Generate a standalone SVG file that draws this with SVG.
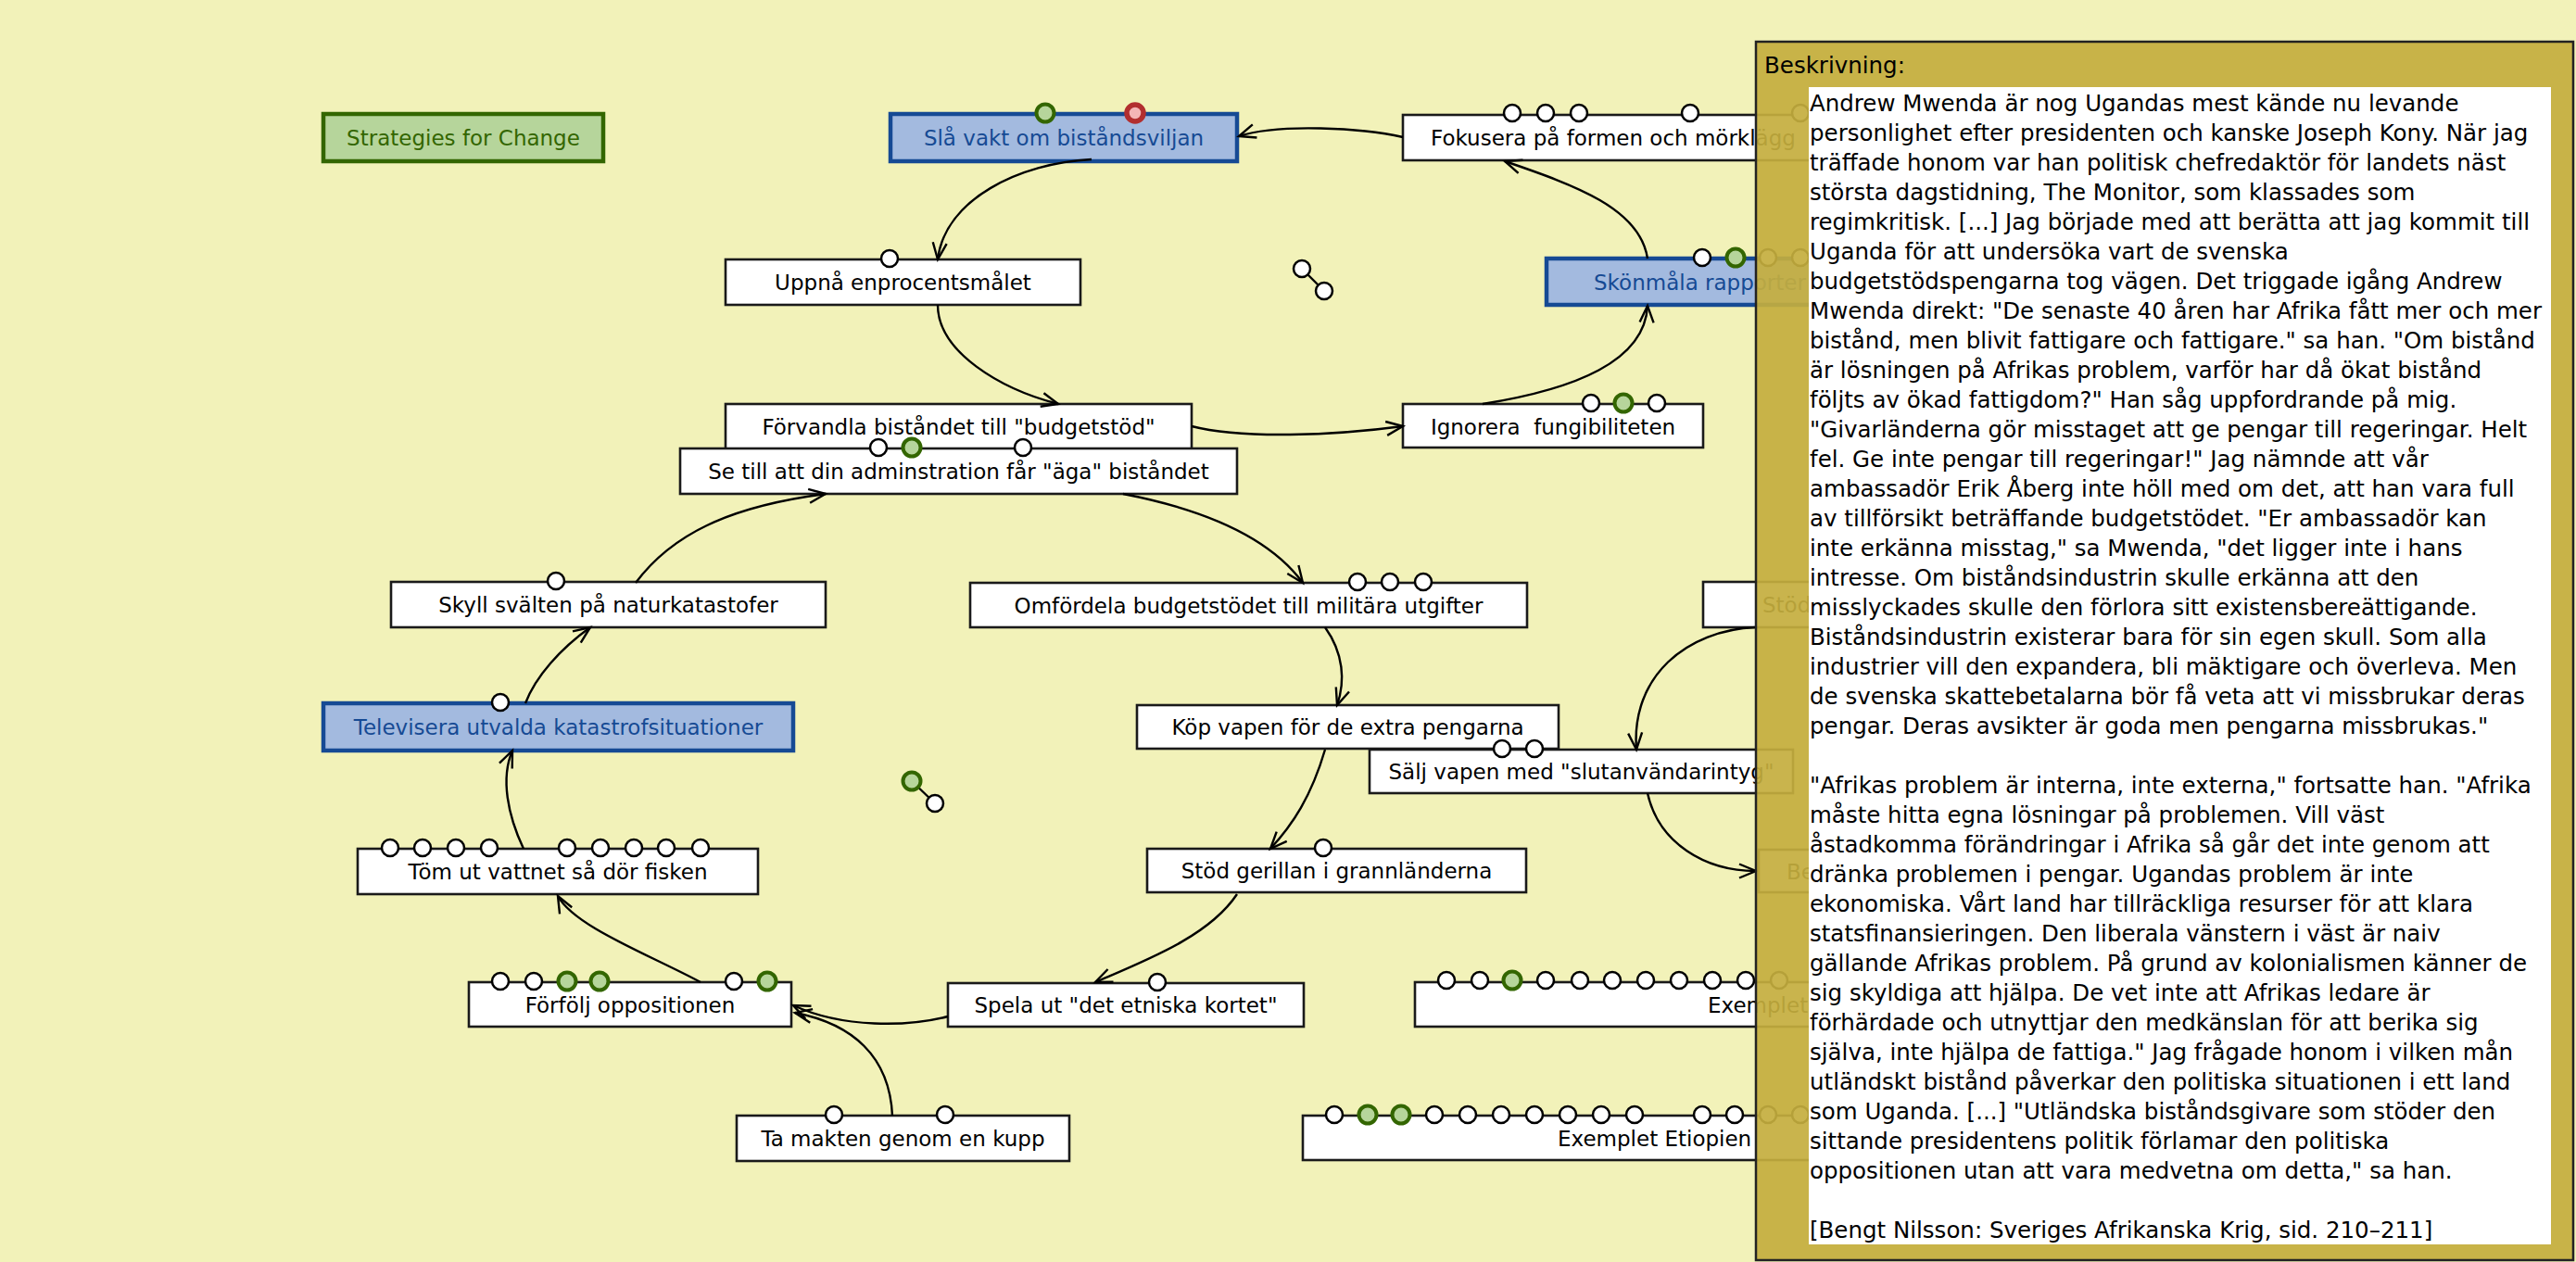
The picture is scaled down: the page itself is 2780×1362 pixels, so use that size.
<svg xmlns="http://www.w3.org/2000/svg" width="2780" height="1362" viewBox="0 0 2780 1362">
<defs>
<style>
text{font-family:"DejaVu Sans","Liberation Sans",sans-serif;font-size:23px;fill:#000}
.n rect{fill:#fff;stroke:#1a1a1a;stroke-width:2.6}
.b rect{fill:#a3badf;stroke:#164a94;stroke-width:4.5}
.b text{fill:#164a94}
.s rect{fill:#b6d59b;stroke:#336600;stroke-width:4.5}
.s text{fill:#336600}
.m{text-anchor:middle}
.c path{fill:none;stroke:#000;stroke-width:2.4;marker-end:url(#a)}
.w{fill:#fff;stroke:#000;stroke-width:2.5}
.g{fill:#b6d59b;stroke:#336600;stroke-width:4}
.r{fill:#f4b6b6;stroke:#b22f2f;stroke-width:5.5}
.p text{font-size:24.5px}
</style>
<marker id="a" markerUnits="userSpaceOnUse" markerWidth="24" markerHeight="20" viewBox="-20 -10 24 20" refX="0" refY="0" orient="auto">
<path d="M-18,-7.5 L0,0 L-18,7.5" fill="none" stroke="#000" stroke-width="2.4"/>
</marker>
</defs>
<rect x="0" y="0" width="2780" height="1362" fill="#f2f2b9"/>

<g id="strategies" class="s"><rect x="349" y="123" width="302" height="51"/><text class="m" x="500" y="157">Strategies for Change</text></g>

<g id="sla-vakt" class="b"><rect x="961" y="123" width="374" height="51"/><text class="m" x="1148" y="157">Slå vakt om biståndsviljan</text>
<circle class="g" cx="1128" cy="122" r="9.5"/><circle class="r" cx="1225" cy="122" r="9"/></g>

<g id="fokusera" class="n"><rect x="1514" y="124" width="700" height="49"/><text x="1544" y="157">Fokusera på formen och mörklägg</text>
<circle class="w" cx="1632" cy="122" r="9"/><circle class="w" cx="1668" cy="122" r="9"/><circle class="w" cx="1704" cy="122" r="9"/><circle class="w" cx="1824" cy="122" r="9"/><circle class="w" cx="1943" cy="122" r="9"/></g>

<g id="uppna" class="n"><rect x="783" y="280" width="383" height="49"/><text class="m" x="974.5" y="313">Uppnå enprocentsmålet</text>
<circle class="w" cx="960" cy="279" r="9"/></g>

<g id="skonmala" class="b"><rect x="1669" y="279" width="600" height="50"/><text x="1720" y="313">Skönmåla rapporter</text>
<circle class="w" cx="1837" cy="278" r="9"/><circle class="g" cx="1873" cy="278" r="9.5"/><circle class="w" cx="1908" cy="278" r="9"/><circle class="w" cx="1943" cy="278" r="9"/></g>

<g id="forvandla" class="n"><rect x="783" y="436" width="503" height="49"/><text class="m" x="1034.5" y="469">Förvandla biståndet till "budgetstöd"</text></g>

<g id="ignorera" class="n"><rect x="1514" y="436" width="324" height="47"/><text class="m" x="1676" y="469" xml:space="preserve">Ignorera  fungibiliteten</text>
<circle class="w" cx="1717" cy="435" r="9"/><circle class="g" cx="1752" cy="435" r="9.5"/><circle class="w" cx="1788" cy="435" r="9"/></g>

<g id="se-till" class="n"><rect x="734" y="484" width="601" height="49"/><text class="m" x="1034.5" y="517">Se till att din adminstration får "äga" biståndet</text>
<circle class="w" cx="948" cy="483" r="9"/><circle class="g" cx="984" cy="483" r="9.5"/><circle class="w" cx="1104" cy="483" r="9"/></g>

<g id="skyll" class="n"><rect x="422" y="628" width="469" height="49"/><text class="m" x="656.5" y="661">Skyll svälten på naturkatastofer</text>
<circle class="w" cx="600" cy="627" r="9"/></g>

<g id="omfordela" class="n"><rect x="1047" y="629" width="601" height="48"/><text class="m" x="1347.5" y="662">Omfördela budgetstödet till militära utgifter</text>
<circle class="w" cx="1465" cy="628" r="9"/><circle class="w" cx="1500" cy="628" r="9"/><circle class="w" cx="1536" cy="628" r="9"/></g>

<g id="stod" class="n"><rect x="1838" y="628" width="400" height="49"/><text x="1902" y="661">Stöd</text></g>

<g id="televisera" class="b"><rect x="349" y="759" width="507" height="51"/><text class="m" x="602.5" y="793">Televisera utvalda katastrofsituationer</text>
<circle class="w" cx="540" cy="758" r="9"/></g>

<g id="kop" class="n"><rect x="1227" y="761" width="455" height="47"/><text class="m" x="1454.5" y="793">Köp vapen för de extra pengarna</text></g>

<g id="salj" class="n"><rect x="1478" y="809" width="457" height="47"/><text class="m" x="1706.5" y="841">Sälj vapen med "slutanvändarintyg"</text>
<circle class="w" cx="1621" cy="808" r="9"/><circle class="w" cx="1656" cy="808" r="9"/></g>

<g id="tom" class="n"><rect x="386" y="916" width="432" height="49"/><text class="m" x="602" y="949">Töm ut vattnet så dör fisken</text>
<circle class="w" cx="421" cy="915" r="9"/><circle class="w" cx="456" cy="915" r="9"/><circle class="w" cx="492" cy="915" r="9"/><circle class="w" cx="528" cy="915" r="9"/><circle class="w" cx="612" cy="915" r="9"/><circle class="w" cx="648" cy="915" r="9"/><circle class="w" cx="684" cy="915" r="9"/><circle class="w" cx="719" cy="915" r="9"/><circle class="w" cx="756" cy="915" r="9"/></g>

<g id="stod-gerillan" class="n"><rect x="1238" y="916" width="409" height="47"/><text class="m" x="1442.5" y="948">Stöd gerillan i grannländerna</text>
<circle class="w" cx="1428" cy="915" r="9"/></g>

<g id="be" class="n"><rect x="1898" y="917" width="300" height="46"/><text x="1928" y="949">Be</text></g>

<g id="forfolj" class="n"><rect x="506" y="1060" width="348" height="48"/><text class="m" x="680" y="1093">Förfölj oppositionen</text>
<circle class="w" cx="540" cy="1059" r="9"/><circle class="w" cx="576" cy="1059" r="9"/><circle class="g" cx="612" cy="1059" r="9.5"/><circle class="g" cx="647" cy="1059" r="9.5"/><circle class="w" cx="792" cy="1059" r="9"/><circle class="g" cx="828" cy="1059" r="9.5"/></g>

<g id="spela" class="n"><rect x="1023" y="1061" width="384" height="47"/><text class="m" x="1215" y="1093">Spela ut "det etniska kortet"</text>
<circle class="w" cx="1249" cy="1060" r="9"/></g>

<g id="exemplet" class="n"><rect x="1527" y="1060" width="700" height="48"/><text x="1843" y="1093">Exemplet</text>
<circle class="w" cx="1561" cy="1058" r="9"/><circle class="w" cx="1597" cy="1058" r="9"/><circle class="g" cx="1632" cy="1058" r="9.5"/><circle class="w" cx="1668" cy="1058" r="9"/><circle class="w" cx="1705" cy="1058" r="9"/><circle class="w" cx="1740" cy="1058" r="9"/><circle class="w" cx="1776" cy="1058" r="9"/><circle class="w" cx="1812" cy="1058" r="9"/><circle class="w" cx="1848" cy="1058" r="9"/><circle class="w" cx="1884" cy="1058" r="9"/><circle class="w" cx="1920" cy="1058" r="9"/></g>

<g id="ta-makten" class="n"><rect x="795" y="1204" width="359" height="49"/><text class="m" x="974.5" y="1237">Ta makten genom en kupp</text>
<circle class="w" cx="900" cy="1203" r="9"/><circle class="w" cx="1020" cy="1203" r="9"/></g>

<g id="etiopien" class="n"><rect x="1406" y="1204" width="760" height="48"/><text x="1681" y="1237">Exemplet Etiopien</text>
<circle class="w" cx="1440" cy="1203" r="9"/><circle class="g" cx="1476" cy="1203" r="9.5"/><circle class="g" cx="1512" cy="1203" r="9.5"/><circle class="w" cx="1548" cy="1203" r="9"/><circle class="w" cx="1584" cy="1203" r="9"/><circle class="w" cx="1620" cy="1203" r="9"/><circle class="w" cx="1656" cy="1203" r="9"/><circle class="w" cx="1692" cy="1203" r="9"/><circle class="w" cx="1728" cy="1203" r="9"/><circle class="w" cx="1764" cy="1203" r="9"/><circle class="w" cx="1837" cy="1203" r="9"/><circle class="w" cx="1872" cy="1203" r="9"/><circle class="w" cx="1908" cy="1203" r="9"/><circle class="w" cx="1943" cy="1203" r="9"/></g>

<g id="connectors" class="c">
<path d="M1514,148 C1470,138 1380,133 1337,147"/>
<path d="M1178,172 C1100,176 1020,215 1012,280"/>
<path d="M1012,329 C1012,380 1080,420 1142,436"/>
<path d="M1286,460 C1340,474 1440,470 1514,460"/>
<path d="M1600,436 C1700,420 1775,390 1778,330"/>
<path d="M1778,279 C1770,225 1700,200 1624,174"/>
<path d="M1212,533 C1300,550 1370,580 1406,629"/>
<path d="M686,629 C730,570 800,545 891,533"/>
<path d="M567,759 C578,730 605,700 637,677"/>
<path d="M565,916 C548,880 540,840 553,810"/>
<path d="M756,1060 C700,1030 620,1000 602,967"/>
<path d="M1023,1097 C980,1108 910,1110 856,1085"/>
<path d="M963,1204 C960,1140 920,1105 858,1093"/>
<path d="M1335,965 C1305,1010 1240,1035 1182,1060"/>
<path d="M1430,809 C1415,860 1395,890 1371,916"/>
<path d="M1430,677 C1450,705 1452,735 1443,761"/>
<path d="M1895,677 C1820,680 1760,730 1766,809"/>
<path d="M1778,856 C1790,910 1840,940 1895,940"/>
<line x1="1405" y1="290" x2="1429" y2="314" stroke="#000" stroke-width="2.4"/>
<circle class="w" cx="1405" cy="290" r="9"/><circle class="w" cx="1429" cy="314" r="9"/>
<line x1="984" y1="843" x2="1009" y2="867" stroke="#000" stroke-width="2.4"/>
<circle class="g" cx="984" cy="843" r="9.5"/><circle class="w" cx="1009" cy="867" r="9"/>
</g>

<g id="beskrivning" class="p">
<rect x="1895" y="45" width="882" height="1315" fill="#c4ae3e" fill-opacity="0.92" stroke="#222" stroke-width="2.5"/>
<text x="1904" y="79">Beskrivning:</text>
<rect x="1952" y="94" width="801" height="1249" fill="#fff"/>
<text x="1953" y="120">
<tspan x="1953" dy="0">Andrew Mwenda är nog Ugandas mest kände nu levande</tspan>
<tspan x="1953" dy="32">personlighet efter presidenten och kanske Joseph Kony. När jag</tspan>
<tspan x="1953" dy="32">träffade honom var han politisk chefredaktör för landets näst</tspan>
<tspan x="1953" dy="32">största dagstidning, The Monitor, som klassades som</tspan>
<tspan x="1953" dy="32">regimkritisk. [...] Jag började med att berätta att jag kommit till</tspan>
<tspan x="1953" dy="32">Uganda för att undersöka vart de svenska</tspan>
<tspan x="1953" dy="32">budgetstödspengarna tog vägen. Det triggade igång Andrew</tspan>
<tspan x="1953" dy="32">Mwenda direkt: "De senaste 40 åren har Afrika fått mer och mer</tspan>
<tspan x="1953" dy="32">bistånd, men blivit fattigare och fattigare." sa han. "Om bistånd</tspan>
<tspan x="1953" dy="32">är lösningen på Afrikas problem, varför har då ökat bistånd</tspan>
<tspan x="1953" dy="32">följts av ökad fattigdom?" Han såg uppfordrande på mig.</tspan>
<tspan x="1953" dy="32">"Givarländerna gör misstaget att ge pengar till regeringar. Helt</tspan>
<tspan x="1953" dy="32">fel. Ge inte pengar till regeringar!" Jag nämnde att vår</tspan>
<tspan x="1953" dy="32">ambassadör Erik Åberg inte höll med om det, att han vara full</tspan>
<tspan x="1953" dy="32">av tillförsikt beträffande budgetstödet. "Er ambassadör kan</tspan>
<tspan x="1953" dy="32">inte erkänna misstag," sa Mwenda, "det ligger inte i hans</tspan>
<tspan x="1953" dy="32">intresse. Om biståndsindustrin skulle erkänna att den</tspan>
<tspan x="1953" dy="32">misslyckades skulle den förlora sitt existensbereättigande.</tspan>
<tspan x="1953" dy="32">Biståndsindustrin existerar bara för sin egen skull. Som alla</tspan>
<tspan x="1953" dy="32">industrier vill den expandera, bli mäktigare och överleva. Men</tspan>
<tspan x="1953" dy="32">de svenska skattebetalarna bör få veta att vi missbrukar deras</tspan>
<tspan x="1953" dy="32">pengar. Deras avsikter är goda men pengarna missbrukas."</tspan>
<tspan x="1953" dy="64">"Afrikas problem är interna, inte externa," fortsatte han. "Afrika</tspan>
<tspan x="1953" dy="32">måste hitta egna lösningar på problemen. Vill väst</tspan>
<tspan x="1953" dy="32">åstadkomma förändringar i Afrika så går det inte genom att</tspan>
<tspan x="1953" dy="32">dränka problemen i pengar. Ugandas problem är inte</tspan>
<tspan x="1953" dy="32">ekonomiska. Vårt land har tillräckliga resurser för att klara</tspan>
<tspan x="1953" dy="32">statsfinansieringen. Den liberala vänstern i väst är naiv</tspan>
<tspan x="1953" dy="32">gällande Afrikas problem. På grund av kolonialismen känner de</tspan>
<tspan x="1953" dy="32">sig skyldiga att hjälpa. De vet inte att Afrikas ledare är</tspan>
<tspan x="1953" dy="32">förhärdade och utnyttjar den medkänslan för att berika sig</tspan>
<tspan x="1953" dy="32">själva, inte hjälpa de fattiga." Jag frågade honom i vilken mån</tspan>
<tspan x="1953" dy="32">utländskt bistånd påverkar den politiska situationen i ett land</tspan>
<tspan x="1953" dy="32">som Uganda. [...] "Utländska biståndsgivare som stöder den</tspan>
<tspan x="1953" dy="32">sittande presidentens politik förlamar den politiska</tspan>
<tspan x="1953" dy="32">oppositionen utan att vara medvetna om detta," sa han.</tspan>
<tspan x="1953" dy="64">[Bengt Nilsson: Sveriges Afrikanska Krig, sid. 210–211]</tspan>
</text>
</g>
</svg>
